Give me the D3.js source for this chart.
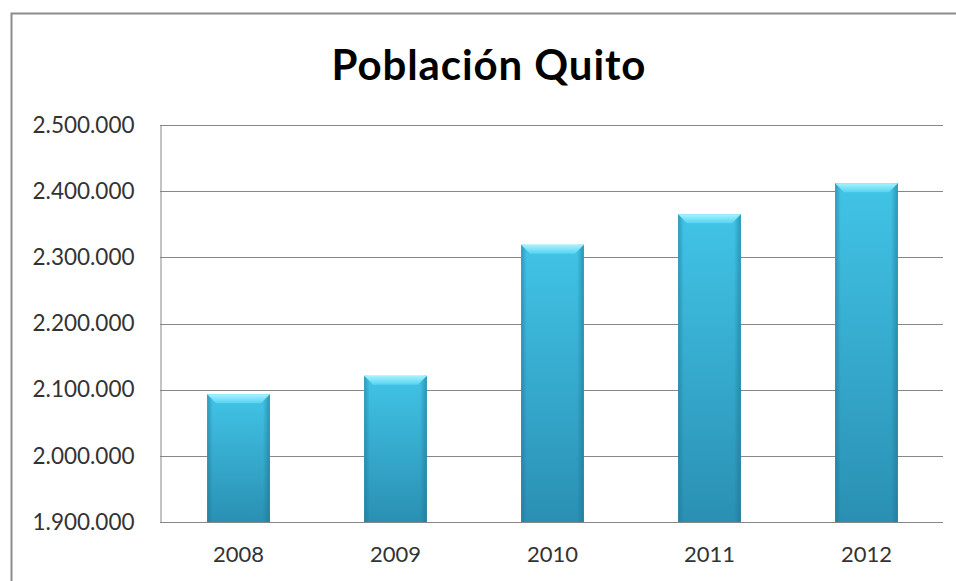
<!DOCTYPE html>
<html>
<head>
<meta charset="utf-8">
<script src="https://cdn.jsdelivr.net/npm/d3@7"></script>
<style>
  html, body { margin: 0; padding: 0; background: #fff; }
  svg { display: block; }
  text { font-family: Lato, "Open Sans", sans-serif; fill: #222; }
</style>
</head>
<body>
<svg id="chart"></svg>
<script>
'use strict'

var years = ["2008", "2009", "2010", "2011", "2012"];
var population = [2093000, 2121000, 2319000, 2365000, 2412000];
var yTicks = [1900000, 2000000, 2100000, 2200000, 2300000, 2400000, 2500000];
var chartTitle = "Población Quito";

var WIDTH = 956,
	HEIGHT = 581;

var margin = { top: 125, right: 11, bottom: 59, left: 160 };

var gridColor = "#878787",
	frameColor = "#8c8c8c";

var svg = d3.select("#chart")
	.attr("width", WIDTH)
	.attr("height", HEIGHT);

// bar gradients
var defs = svg.append("defs");

var bodyGrad = defs.append("linearGradient")
	.attr("id", "barBody")
	.attr("x1", 0).attr("y1", 0).attr("x2", 0).attr("y2", 1);
bodyGrad.append("stop").attr("offset", "0%").attr("stop-color", "#41c4e7");
bodyGrad.append("stop").attr("offset", "100%").attr("stop-color", "#2a90b3");

var sideGrad = defs.append("linearGradient")
	.attr("id", "barSide")
	.attr("x1", 0).attr("y1", 0).attr("x2", 1).attr("y2", 0);
sideGrad.append("stop").attr("offset", "0%").attr("stop-color", "#1b6f8c").attr("stop-opacity", 0.5);
sideGrad.append("stop").attr("offset", "9%").attr("stop-color", "#1b6f8c").attr("stop-opacity", 0);
sideGrad.append("stop").attr("offset", "89%").attr("stop-color", "#1b6f8c").attr("stop-opacity", 0);
sideGrad.append("stop").attr("offset", "100%").attr("stop-color", "#1b6f8c").attr("stop-opacity", 0.55);

var capGrad = defs.append("linearGradient")
	.attr("id", "barCap")
	.attr("x1", 0).attr("y1", 0).attr("x2", 0).attr("y2", 1);
capGrad.append("stop").attr("offset", "0%").attr("stop-color", "#a6f3ff");
capGrad.append("stop").attr("offset", "100%").attr("stop-color", "#55d3f0");

// outer frame (left and top edges only show in the crop)
svg.append("path")
	.attr("d", "M11.5," + HEIGHT + " V13.5 H" + WIDTH)
	.attr("fill", "none")
	.attr("stroke", frameColor)
	.attr("stroke-width", 2);

svg.append("text")
	.attr("x", 489)
	.attr("y", 80)
	.attr("text-anchor", "middle")
	.style("font-size", "42px")
	.style("font-weight", "bold")
	.style("letter-spacing", "0.9px")
	.style("fill", "#000")
	.text(chartTitle);

var x = d3.scaleBand()
	.domain(years)
	.range([margin.left, WIDTH - margin.right])
	.paddingInner(0.6)
	.paddingOuter(0.3);

var y = d3.scaleLinear()
	.domain([1900000, 2500000])
	.range([HEIGHT - margin.bottom, margin.top]);

var fmt = function(d) { return d3.format(",")(d).replace(/,/g, "."); };

// grid lines
svg.append("g")
	.selectAll("line")
	.data(yTicks)
	.join("line")
	.attr("x1", margin.left)
	.attr("x2", WIDTH - margin.right - 2)
	.attr("y1", function(d) { return Math.round(y(d)) + 0.5; })
	.attr("y2", function(d) { return Math.round(y(d)) + 0.5; })
	.attr("stroke", gridColor)
	.attr("stroke-width", 1);

// y axis
var yAxis = svg.append("g")
	.attr("transform", "translate(" + (margin.left + 0.5) + ",0)")
	.call(d3.axisLeft(y).tickValues(yTicks).tickFormat(fmt).tickSize(0).tickPadding(26));
yAxis.select(".domain").attr("stroke", gridColor);
yAxis.selectAll("text")
	.style("font-size", "22.5px")
	.style("fill", "#333")
	.style("font-family", "Lato, sans-serif");

// x axis
var xAxis = svg.append("g")
	.attr("transform", "translate(0," + (Math.round(y(1900000)) + 0.5) + ")")
	.call(d3.axisBottom(x).tickSize(0).tickPadding(24));
xAxis.select(".domain").remove();
xAxis.selectAll("text")
	.style("font-size", "22px")
	.style("fill", "#333")
	.style("font-family", "Lato, sans-serif");

// bars
var bars = svg.append("g")
	.selectAll("g")
	.data(years.map(function(d, i) { return { year: d, value: population[i] }; }))
	.join("g");

bars.append("rect")
	.attr("x", function(d) { return x(d.year); })
	.attr("y", function(d) { return y(d.value); })
	.attr("width", x.bandwidth())
	.attr("height", function(d) { return y(1900000) - y(d.value); })
	.attr("fill", "url(#barBody)");

bars.append("rect")
	.attr("x", function(d) { return x(d.year); })
	.attr("y", function(d) { return y(d.value); })
	.attr("width", x.bandwidth())
	.attr("height", function(d) { return y(1900000) - y(d.value); })
	.attr("fill", "url(#barSide)");

// bevelled top
var bevel = 9;
bars.append("path")
	.attr("d", function(d) {
		var x0 = x(d.year), x1 = x0 + x.bandwidth(), t = y(d.value);
		return "M" + x0 + "," + t + " H" + x1 + " L" + (x1 - bevel) + "," + (t + bevel) +
			" H" + (x0 + bevel) + " Z";
	})
	.attr("fill", "url(#barCap)");
</script>
</body>
</html>
